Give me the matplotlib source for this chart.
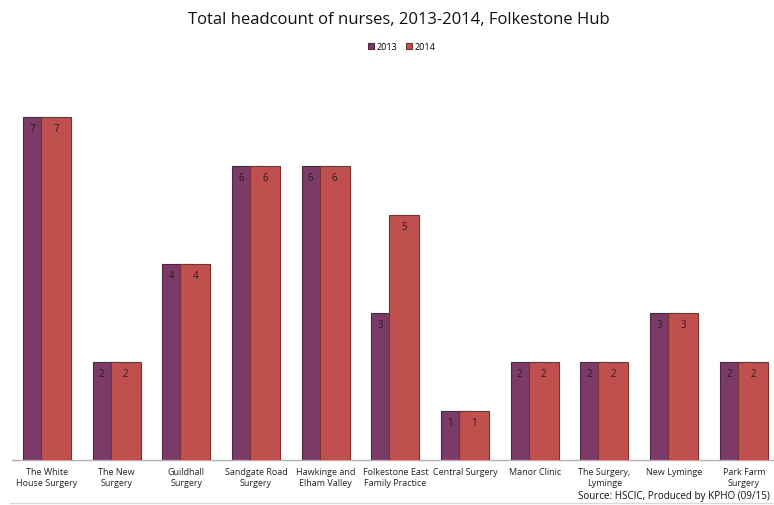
import numpy as np
import matplotlib.pyplot as plt

practices = ['The White\nHouse Surgery', 'The New\nSurgery', 'Guildhall\nSurgery',
             'Sandgate Road\nSurgery', 'Hawkinge and\nElham Valley',
             'Folkestone East\nFamily Practice', 'Central Surgery', 'Manor Clinic',
             'The Surgery,\nLyminge', 'New Lyminge', 'Park Farm\nSurgery']
nurses_2013 = [7, 2, 4, 6, 6, 3, 1, 2, 2, 3, 2]
nurses_2014 = [7, 2, 4, 6, 6, 5, 1, 2, 2, 3, 2]

c2013 = '#7b3b66'
c2014 = '#c0504d'
font = ['Open Sans', 'DejaVu Sans']
plt.rcParams['font.family'] = font

W, H = 774, 505
fig = plt.figure(figsize=(W / 100, H / 100), dpi=100)
# plot area: category slots of ~69.7 px starting at x=12, baseline at y=460
slot = 69.7
ax = fig.add_axes([12 / W, (H - 460) / H, slot * 11 / W, 392 / H])

x = np.arange(len(practices))
bw = 30 / slot
off13 = -24 / slot
off14 = -6 / slot
b13 = ax.bar(x + off13, nurses_2013, width=bw, align='edge', color=c2013,
             edgecolor='#4e2442', linewidth=0.8, label='2013', zorder=2)
b14 = ax.bar(x + off14, nurses_2014, width=bw, align='edge', color=c2014,
             edgecolor='#7d2f2d', linewidth=0.8, label='2014', zorder=3)

for i in range(len(practices)):
    ax.text(x[i] + off13 + 9 / slot, nurses_2013[i] - 0.25, str(nurses_2013[i]),
            ha='center', va='center', fontsize=7, color='#2a1a22', zorder=4)
    ax.text(x[i] + off14 + 15 / slot, nurses_2014[i] - 0.25, str(nurses_2014[i]),
            ha='center', va='center', fontsize=7, color='#2a1a22', zorder=4)

ax.set_xlim(-0.5, len(practices) - 0.5)
ax.set_ylim(0, 8)
ax.set_xticks(x)
ax.set_xticklabels(practices, fontsize=6.5, color='#222222', linespacing=1.2)
ax.tick_params(axis='x', length=0, pad=6)
ax.set_yticks([])
for s in ['top', 'right', 'left']:
    ax.spines[s].set_visible(False)
ax.spines['bottom'].set_color('#b0b0b0')
ax.spines['bottom'].set_linewidth(1.0)

fig.text(0.515, 1 - 20 / H, 'Total headcount of nurses, 2013-2014, Folkestone Hub',
         ha='center', va='center', fontsize=12, color='#111111')
fig.legend(handles=[b13, b14], loc='center', bbox_to_anchor=(0.519, 1 - 47 / H),
           ncol=2, frameon=False, fontsize=6.5, handlelength=0.6, handleheight=0.6,
           handletextpad=0.3, columnspacing=1.0)
fig.text(770 / W, 1 - 496 / H, 'Source: HSCIC, Produced by KPHO (09/15)',
         ha='right', va='center', fontsize=7.1, color='#111111')
fig.add_artist(plt.Line2D([10 / W, 1], [1 - 503 / H] * 2, color='#d8d8d8', lw=1))

fig.savefig('out.png', dpi=100)
